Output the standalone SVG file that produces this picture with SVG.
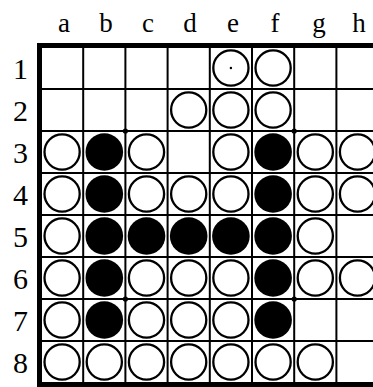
<svg xmlns="http://www.w3.org/2000/svg" width="373" height="387" viewBox="0 0 373 387">
<style>
.lbl{font-family:"Liberation Serif","Times New Roman",serif;fill:#000;text-anchor:middle}
.col{font-size:27px}
.row{font-size:30px}
.grid{stroke:#000;stroke-width:2;fill:none}
.w{fill:#fff;stroke:#000;stroke-width:2.3}
.b{fill:#000}
</style>
<rect x="0" y="0" width="373" height="387" fill="#fff"/>
<g id="labels">
<text class="lbl col" x="64" y="32">a</text>
<text class="lbl col" x="106" y="32">b</text>
<text class="lbl col" x="148" y="32">c</text>
<text class="lbl col" x="190" y="32">d</text>
<text class="lbl col" x="233" y="32">e</text>
<text class="lbl col" x="275" y="32">f</text>
<text class="lbl col" x="319" y="32">g</text>
<text class="lbl col" x="359" y="32">h</text>
<text class="lbl row" x="20.5" y="78.5">1</text>
<text class="lbl row" x="20.5" y="120.5">2</text>
<text class="lbl row" x="20.5" y="162.5">3</text>
<text class="lbl row" x="20.5" y="204.5">4</text>
<text class="lbl row" x="20.5" y="246.5">5</text>
<text class="lbl row" x="20.5" y="288.5">6</text>
<text class="lbl row" x="20.5" y="330.5">7</text>
<text class="lbl row" x="20.5" y="372.5">8</text>
</g>
<g id="board">
<path class="grid" d="M83.2 47V383M125.4 47V383M167.6 47V383M209.8 47V383M252 47V383M294.2 47V383M336.4 47V383M41 89H380M41 131H380M41 173H380M41 215H380M41 257H380M41 299H380M41 341H380"/>
<path d="M380 45.5H39.5V384.5H380" fill="none" stroke="#000" stroke-width="5"/>
<circle cx="125.4" cy="131" r="2.6"/>
<circle cx="294.2" cy="131" r="2.6"/>
<circle cx="125.4" cy="299" r="2.6"/>
<circle cx="294.2" cy="299" r="2.6"/>
</g>
<g id="discs">
<g id="row1"><circle class="w" cx="230.9" cy="68" r="17.6"/><circle cx="230.9" cy="68" r="1.2"/><circle class="w" cx="273.1" cy="68" r="17.6"/></g>
<g id="row2"><circle class="w" cx="188.7" cy="110" r="17.6"/><circle class="w" cx="230.9" cy="110" r="17.6"/><circle class="w" cx="273.1" cy="110" r="17.6"/></g>
<g id="row3"><circle class="w" cx="62.1" cy="152" r="17.6"/><circle class="b" cx="104.3" cy="152" r="18.8"/><circle class="w" cx="146.5" cy="152" r="17.6"/><circle class="w" cx="230.9" cy="152" r="17.6"/><circle class="b" cx="273.1" cy="152" r="18.8"/><circle class="w" cx="315.3" cy="152" r="17.6"/><circle class="w" cx="357.5" cy="152" r="17.6"/></g>
<g id="row4"><circle class="w" cx="62.1" cy="194" r="17.6"/><circle class="b" cx="104.3" cy="194" r="18.8"/><circle class="w" cx="146.5" cy="194" r="17.6"/><circle class="w" cx="188.7" cy="194" r="17.6"/><circle class="w" cx="230.9" cy="194" r="17.6"/><circle class="b" cx="273.1" cy="194" r="18.8"/><circle class="w" cx="315.3" cy="194" r="17.6"/><circle class="w" cx="357.5" cy="194" r="17.6"/></g>
<g id="row5"><circle class="w" cx="62.1" cy="236" r="17.6"/><circle class="b" cx="104.3" cy="236" r="18.8"/><circle class="b" cx="146.5" cy="236" r="18.8"/><circle class="b" cx="188.7" cy="236" r="18.8"/><circle class="b" cx="230.9" cy="236" r="18.8"/><circle class="b" cx="273.1" cy="236" r="18.8"/><circle class="w" cx="315.3" cy="236" r="17.6"/></g>
<g id="row6"><circle class="w" cx="62.1" cy="278" r="17.6"/><circle class="b" cx="104.3" cy="278" r="18.8"/><circle class="w" cx="146.5" cy="278" r="17.6"/><circle class="w" cx="188.7" cy="278" r="17.6"/><circle class="w" cx="230.9" cy="278" r="17.6"/><circle class="b" cx="273.1" cy="278" r="18.8"/><circle class="w" cx="315.3" cy="278" r="17.6"/><circle class="w" cx="357.5" cy="278" r="17.6"/></g>
<g id="row7"><circle class="w" cx="62.1" cy="320" r="17.6"/><circle class="b" cx="104.3" cy="320" r="18.8"/><circle class="w" cx="146.5" cy="320" r="17.6"/><circle class="w" cx="188.7" cy="320" r="17.6"/><circle class="w" cx="230.9" cy="320" r="17.6"/><circle class="b" cx="273.1" cy="320" r="18.8"/></g>
<g id="row8"><circle class="w" cx="62.1" cy="362" r="17.6"/><circle class="w" cx="104.3" cy="362" r="17.6"/><circle class="w" cx="146.5" cy="362" r="17.6"/><circle class="w" cx="188.7" cy="362" r="17.6"/><circle class="w" cx="230.9" cy="362" r="17.6"/><circle class="w" cx="273.1" cy="362" r="17.6"/><circle class="w" cx="315.3" cy="362" r="17.6"/></g>
</g>
</svg>
